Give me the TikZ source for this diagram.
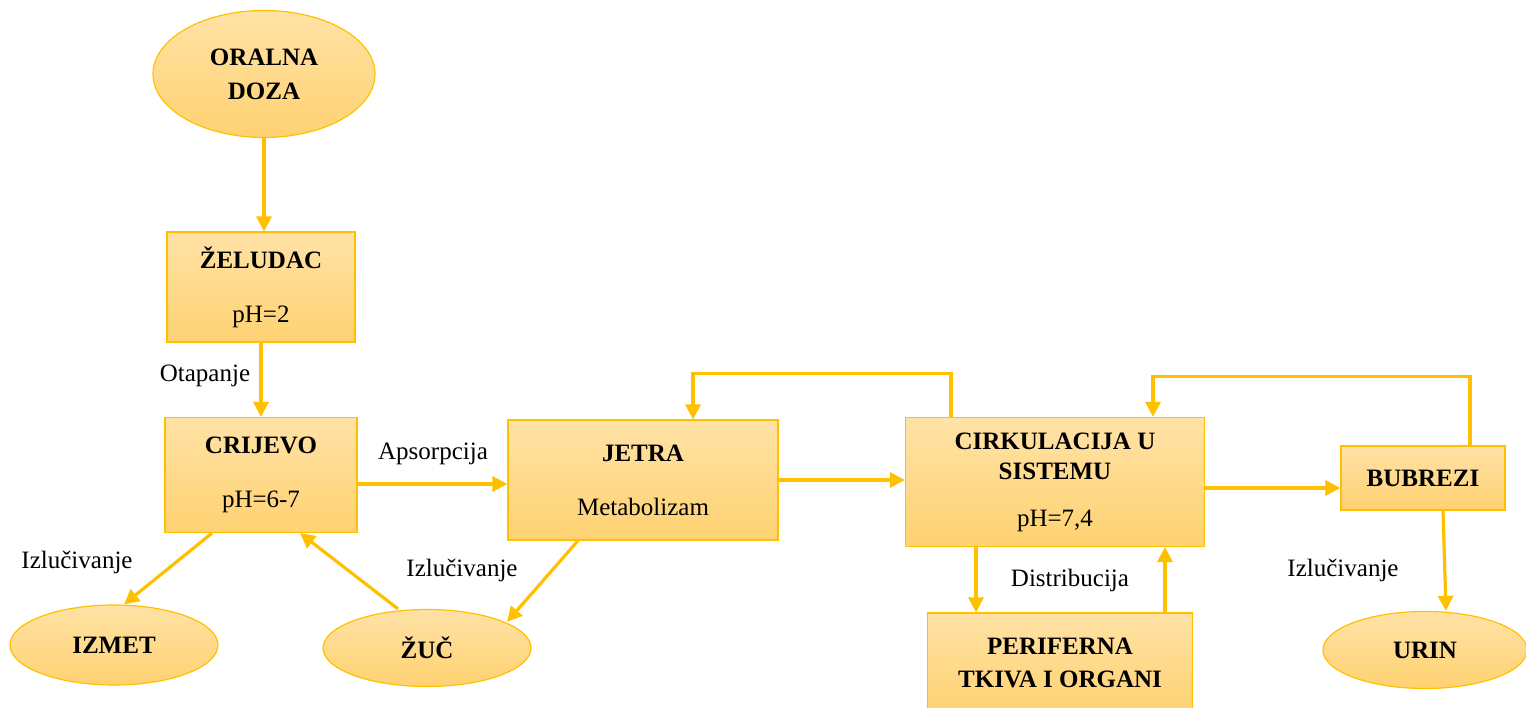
\documentclass[tikz,border=0pt]{standalone}
\usepackage{fontspec}
\setmainfont{Liberation Serif}
\usetikzlibrary{arrows.meta,positioning,shapes.geometric}
\definecolor{zlato}{HTML}{FFC000}
\definecolor{svjetla}{HTML}{FFE2A6}
\definecolor{tamna}{HTML}{FFD272}

\begin{document}
\begin{tikzpicture}[
  x=1pt, y=-1pt,
  kutija/.style={rectangle,draw=zlato,line width=1.2pt,top color=svjetla,bottom color=tamna,align=center,inner sep=0pt,font=\fontsize{25}{30}\selectfont\bfseries},
  elipsa/.style={ellipse,draw=zlato,line width=1.2pt,top color=svjetla,bottom color=tamna,align=center,inner sep=0pt,font=\fontsize{25}{30}\selectfont\bfseries},
  oznaka/.style={inner sep=0pt,font=\fontsize{25}{30}\selectfont},
  strelica/.style={-{Triangle[length=15pt,width=15pt]},draw=zlato,line width=3.2pt}
]
\useasboundingbox (0,0) rectangle (1526,708);

\node[elipsa, minimum width=222pt, minimum height=127pt] (oral) at (264,74) {ORALNA\\[4pt]DOZA};
\node[kutija, minimum width=188pt, minimum height=110pt] (zel) at (261,287) {ŽELUDAC\\[24pt]{\mdseries pH=2}};
\node[kutija, minimum width=192pt, minimum height=115pt] (crij) at (261,475) {CRIJEVO\\[24pt]{\mdseries pH=6-7}};
\node[kutija, minimum width=270pt, minimum height=120pt] (jetra) at (643,480) {JETRA\\[24pt]{\mdseries Metabolizam}};
\node[kutija, minimum width=299pt, minimum height=129pt] (cirk) at (1055,482) {CIRKULACIJA U\\SISTEMU\\[17pt]{\mdseries pH=7,4}};
\node[kutija, minimum width=164pt, minimum height=64pt] (bubr) at (1423,478) {BUBREZI};
\node[kutija, minimum width=265pt, minimum height=100pt] (peri) at (1060,663) {PERIFERNA\\[3pt]TKIVA I ORGANI};
\node[elipsa, minimum width=208pt, minimum height=80pt] (izmet) at (114,645) {IZMET};
\node[elipsa, minimum width=208pt, minimum height=77pt] (zuc) at (427,648) {ŽUČ};
\node[elipsa, minimum width=204pt, minimum height=77pt] (urin) at (1425,650) {URIN};

% oznake
\node[oznaka] (otap) at (205,376) {Otapanje};
\node[oznaka] (apso) at (433,454) {Apsorpcija};
\node[oznaka] (izl1) at (77,562) {Izlučivanje};
\node[oznaka] (izl2) at (462,570) {Izlučivanje};
\node[oznaka] (dist) at (1070,580) {Distribucija};
\node[oznaka] (izl3) at (1343,570) {Izlučivanje};

\draw[strelica] (oral.south) -- (oral.south |- zel.north);
\draw[strelica] (zel) -- (crij);
\draw[strelica] ([yshift=-9pt]crij.east) -- ([yshift=-9pt]crij.east -| jetra.west);
\draw[strelica] (jetra.east) -- (jetra.east -| cirk.west);
\draw[strelica] ([xshift=-104pt]cirk.north) -- ++(0,-43) -| ([xshift=50pt]jetra.north);
\draw[strelica] ([yshift=-6pt]cirk.east) -- ([yshift=-6pt]cirk.east -| bubr.west);
\draw[strelica] ([xshift=47pt]bubr.north) -- ++(0,-69) -| ([xshift=98pt]cirk.north);
\draw[strelica] ([xshift=20pt]bubr.south) -- ([xshift=21pt]urin.north);
\draw[strelica] ([xshift=-79pt]cirk.south) -- ([xshift=-79pt]cirk.south |- peri.north);
\draw[strelica] ([xshift=105pt]peri.north) -- ([xshift=105pt]peri.north |- cirk.south);
\draw[strelica] ([xshift=-49pt]crij.south) -- ([xshift=10pt]izmet.north);
\draw[strelica] ([xshift=-29pt]zuc.north) -- ([xshift=39pt]crij.south);
\draw[strelica] ([xshift=-65pt]jetra.south) -- ([xshift=80pt,yshift=-13pt]zuc.north);
\end{tikzpicture}
\end{document}
